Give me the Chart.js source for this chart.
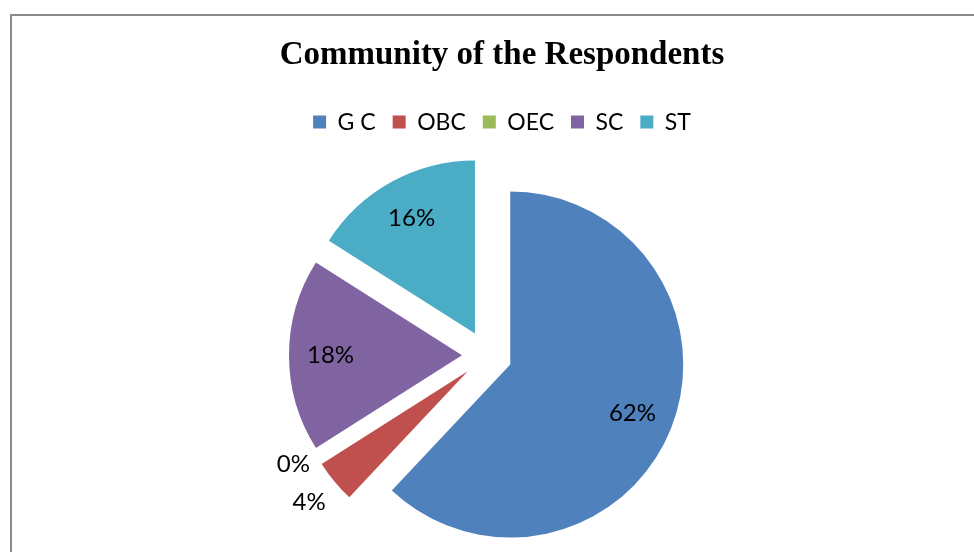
<!DOCTYPE html>
<html lang="en">
<head>
    <meta charset="UTF-8">
    <title>Community of the Respondents</title>
    <script src="https://cdn.jsdelivr.net/npm/chart.js"></script>
    <style>
        html, body { margin: 0; padding: 0; background: #fff; overflow: hidden; }
        .frame {
            position: absolute; left: 10px; top: 14px; width: 1000px; height: 600px;
            border-top: 2px solid #8a8a8a; border-left: 2px solid #8a8a8a;
        }
        .wrap { position: absolute; left: 0; top: 0; width: 974px; height: 567px; }
    </style>
</head>
<body>
    <div class="frame"></div>
    <div class="wrap"><canvas id="grafico"></canvas></div>

    <script>
        // dados do grafico
        const categorias = ['G C', 'OBC', 'OEC', 'SC', 'ST'];
        const percentuais = [62, 4, 0, 18, 16];
        const cores = ['#4F81BD', '#C0504D', '#9BBB59', '#8064A2', '#4BACC6'];

        const EXPLODE = 25;   // distancia das fatias ao centro
        const RAIO = 173;

        // desenha as fatias afastadas do centro (pie "explodido")
        const fatiasExplodidas = {
            id: 'fatiasExplodidas',
            afterLayout(chart) {
                // pizza um pouco a esquerda do titulo/legenda, como no original
                chart.chartArea.left -= 30;
            },
            beforeDatasetDraw(chart, args) {
                const ctx = chart.ctx;
                args.meta.data.forEach(arc => {
                    const meio = (arc.startAngle + arc.endAngle) / 2;
                    ctx.save();
                    ctx.translate(Math.cos(meio) * EXPLODE, Math.sin(meio) * EXPLODE);
                    arc.draw(ctx);
                    ctx.restore();
                });
                return false;
            }
        };

        // rotulos de porcentagem
        const rotulos = {
            id: 'rotulos',
            afterDatasetsDraw(chart) {
                const ctx = chart.ctx;
                const meta = chart.getDatasetMeta(0);
                ctx.save();
                ctx.font = '24px Lato';
                ctx.fillStyle = '#000';
                ctx.textAlign = 'center';
                ctx.textBaseline = 'middle';
                meta.data.forEach((arc, i) => {
                    const v = percentuais[i];
                    let meio = (arc.startAngle + arc.endAngle) / 2;
                    let r;
                    if (v === 0) {
                        meio += 3 * Math.PI / 180; // afasta do rotulo vizinho
                        r = EXPLODE + arc.outerRadius * 1.14;
                    } else if (v < 5) {
                        r = EXPLODE + arc.outerRadius * 1.19;
                    } else {
                        r = EXPLODE + arc.outerRadius * 0.76;
                    }
                    ctx.fillText(v + '%', arc.x + Math.cos(meio) * r, arc.y + Math.sin(meio) * r);
                });
                ctx.restore();
            }
        };

        new Chart(document.getElementById('grafico'), {
            type: 'pie',
            data: {
                labels: categorias,
                datasets: [{
                    data: percentuais,
                    backgroundColor: cores,
                    borderWidth: 0,
                    radius: RAIO
                }]
            },
            options: {
                responsive: true,
                maintainAspectRatio: false,
                animation: false,
                layout: { padding: { left: 30, right: 0, top: 0, bottom: 0 } },
                plugins: {
                    title: {
                        display: true,
                        text: 'Community of the Respondents',
                        color: '#000',
                        font: { family: 'Liberation Serif', size: 33, weight: 'bold', lineHeight: 1.2 },
                        padding: { top: 36, bottom: 18 }
                    },
                    legend: {
                        position: 'top',
                        labels: {
                            color: '#000',
                            font: { family: 'Lato', size: 23 },
                            boxWidth: 13,
                            boxHeight: 13,
                            padding: 17
                        }
                    },
                    tooltip: { enabled: false }
                }
            },
            plugins: [fatiasExplodidas, rotulos]
        });
    </script>
</body>
</html>
